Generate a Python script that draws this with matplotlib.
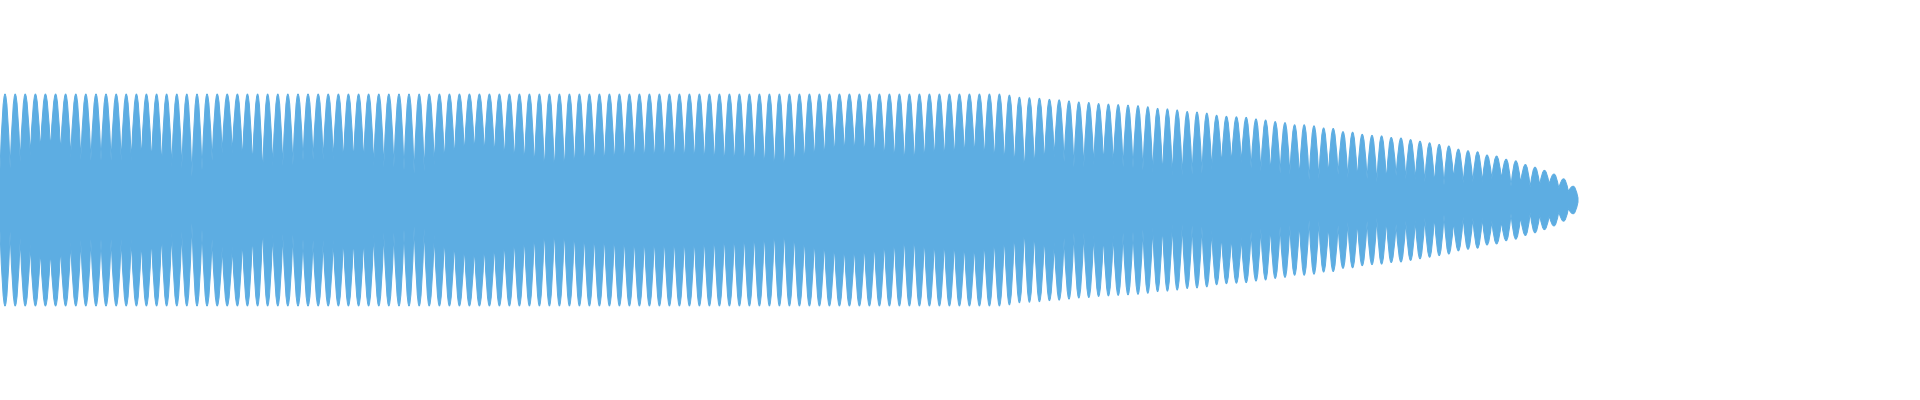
import matplotlib
matplotlib.use('Agg')
import matplotlib.pyplot as plt
import matplotlib.patches as patches
from matplotlib.path import Path
import numpy as np

# waveform envelope, time in ms (lobe = one beat of the tone)
clip_len = 9600
wave_start = 0
wave_end = 7890

lobe_t = [25, 76, 126, 177, 227, 278, 328, 379, 429, 480, 530, 581, 631, 682, 732,
          783, 833, 884, 934, 985, 1035, 1086, 1136, 1187, 1237, 1288, 1338, 1389, 1439,
          1490, 1540, 1591, 1641, 1692, 1742, 1793, 1843, 1894, 1944, 1995, 2045, 2096,
          2146, 2197, 2247,
          2297, 2347, 2397, 2447, 2497, 2547, 2597, 2647, 2697, 2747, 2797, 2847, 2897,
          2947, 2997, 3047, 3097, 3147, 3197, 3247, 3297, 3347, 3397, 3447, 3497, 3547,
          3597, 3647, 3697, 3747, 3797, 3847, 3897, 3947, 3997, 4047, 4097, 4147, 4197,
          4247, 4297, 4347, 4397, 4447, 4497, 4547, 4597, 4647, 4697, 4747, 4797, 4847,
          4897, 4947, 4997, 5047, 5097, 5147, 5197, 5247,
          5296, 5345, 5394, 5444, 5493, 5542, 5591, 5640, 5690, 5739, 5788, 5837, 5886,
          5936, 5985, 6034, 6083, 6132, 6182, 6231,
          6280, 6328, 6376, 6425, 6473, 6521, 6570, 6618, 6666, 6715, 6763, 6811, 6860,
          6908, 6956, 7005,
          7053, 7100, 7148, 7196, 7244, 7292, 7340, 7388, 7435, 7483, 7531, 7579, 7627,
          7675, 7722, 7770, 7818, 7866]

lobe_peak = [1.0] * 100 + [
    0.99, 0.97, 0.965, 0.96, 0.95,
    0.945, 0.935, 0.925, 0.92, 0.91, 0.905, 0.90, 0.895, 0.89, 0.88, 0.865, 0.86, 0.85,
    0.835, 0.83, 0.82, 0.80, 0.79, 0.785, 0.78,
    0.765, 0.755, 0.74, 0.73, 0.71, 0.71, 0.70, 0.68, 0.675, 0.645, 0.64, 0.62, 0.61,
    0.605, 0.59, 0.585,
    0.57, 0.555, 0.54, 0.525, 0.51, 0.48, 0.465, 0.455, 0.425, 0.415, 0.385, 0.37, 0.335,
    0.31, 0.28, 0.245, 0.20, 0.13]

# level of the solid band between two lobes
trough = [
    0.30, 0.36, 0.42, 0.46, 0.47, 0.44, 0.40, 0.38, 0.37, 0.37, 0.37, 0.37, 0.37, 0.38,
    0.35, 0.31, 0.31, 0.30, 0.22, 0.28, 0.37, 0.44, 0.44, 0.37, 0.32, 0.24, 0.32, 0.32,
    0.33, 0.37, 0.38, 0.38, 0.38, 0.35, 0.35, 0.35, 0.32, 0.31, 0.31, 0.28, 0.25, 0.27,
    0.33, 0.34,
    0.38,
    0.42, 0.44, 0.42, 0.40, 0.37, 0.34, 0.32, 0.29, 0.25, 0.24, 0.25, 0.27, 0.29, 0.30,
    0.30, 0.31, 0.32, 0.33, 0.33, 0.33, 0.33, 0.33, 0.33, 0.33, 0.32, 0.31, 0.30, 0.30,
    0.29, 0.28, 0.27, 0.25, 0.24, 0.28, 0.32, 0.35, 0.37, 0.40, 0.42, 0.42, 0.40, 0.38,
    0.36, 0.34, 0.31, 0.31, 0.34, 0.36, 0.36, 0.37, 0.39, 0.40, 0.37, 0.34, 0.32, 0.29,
    0.24, 0.28, 0.33,
    0.40,
    0.36, 0.31, 0.31, 0.33, 0.33, 0.33, 0.31, 0.30, 0.28, 0.26, 0.23, 0.23, 0.23, 0.24,
    0.25, 0.29, 0.32, 0.34, 0.35,
    0.30,
    0.27, 0.25, 0.25, 0.24, 0.21, 0.19, 0.20, 0.23, 0.24, 0.21, 0.20, 0.20, 0.17, 0.18,
    0.23,
    0.20,
    0.19, 0.17, 0.15, 0.14, 0.20, 0.16, 0.17, 0.17, 0.20, 0.20, 0.13, 0.16, 0.12, 0.14,
    0.15, 0.11, 0.08]
start_level = 0.29
end_level = 0.02

wave_color = '#5dade2'

lobe_t = np.array(lobe_t, dtype=float)
trough_t = (lobe_t[:-1] + lobe_t[1:]) / 2

# knots along the top edge: trough, lobe, trough, lobe, ... , end
knots = [(wave_start, start_level, False)]
for i in range(len(lobe_t)):
    knots.append((lobe_t[i], lobe_peak[i], True))
    if i < len(trough):
        knots.append((trough_t[i], trough[i], False))
knots.append((wave_end, end_level, False))


def edge(knots, sign):
    # every lobe side is a parabola with its top at the lobe peak
    verts = []
    for k in range(len(knots) - 1):
        t0, a0, p0 = knots[k]
        t1, a1, p1 = knots[k + 1]
        top = a0 if p0 else a1
        verts.append(((t0 + t1) / 2, sign * top))
        verts.append((t1, sign * a1))
    return verts


top = edge(knots, 1)
bottom = edge(knots[::-1], -1)

verts = [(knots[0][0], knots[0][1])] + top
codes = [Path.MOVETO] + [Path.CURVE3] * len(top)
verts += [(knots[-1][0], -knots[-1][1])] + bottom
codes += [Path.LINETO] + [Path.CURVE3] * len(bottom)
verts.append((0, 0))
codes.append(Path.CLOSEPOLY)

fig = plt.figure(figsize=(19.2, 4), dpi=100)
ax = fig.add_axes([0, 0, 1, 1])
# thin edge in the same colour: the waveform is drawn one pixel column at a time
ax.add_patch(patches.PathPatch(Path(verts, codes), facecolor=wave_color,
                               edgecolor=wave_color, linewidth=0.7, joinstyle='miter'))
ax.set_xlim(0, clip_len)
ax.set_ylim(-1.887, 1.887)
ax.axis('off')

fig.savefig('out.png', dpi=100)
